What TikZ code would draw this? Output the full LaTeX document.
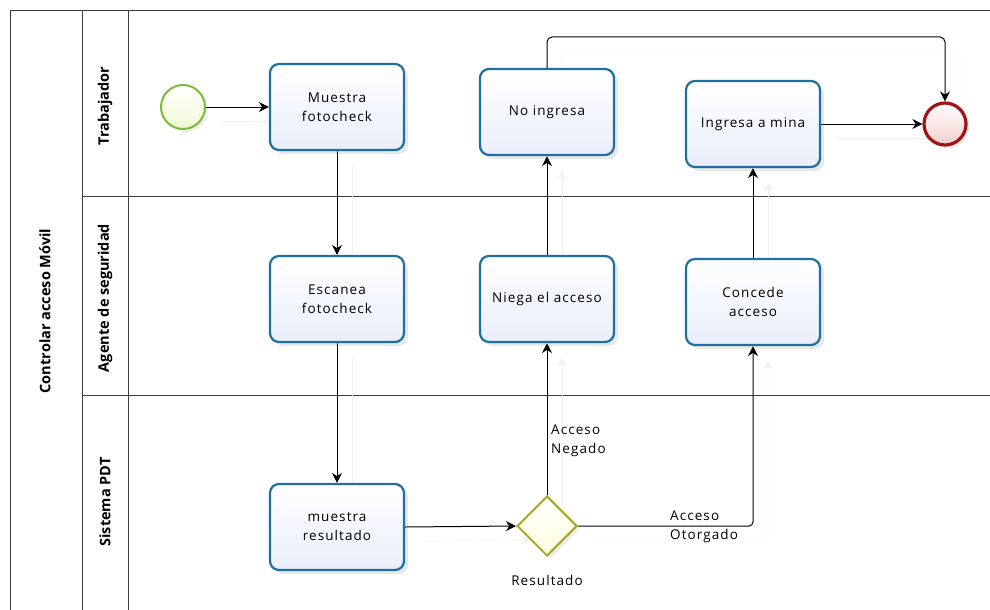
\documentclass[tikz,border=0pt]{standalone}
\usepackage{fontspec}
\setmainfont[LetterSpace=8]{Open Sans}
\newfontfamily\lanefont{Open Sans}
\usetikzlibrary{arrows.meta,shapes.geometric,shadows}

\definecolor{taskblue}{RGB}{30,112,160}
\definecolor{taskfill}{RGB}{234,238,252}
\definecolor{startline}{RGB}{122,190,56}
\definecolor{startfill}{RGB}{238,250,210}
\definecolor{endline}{RGB}{160,20,24}
\definecolor{endfill}{RGB}{244,206,206}
\definecolor{gateline}{RGB}{168,168,40}
\definecolor{gatefill}{RGB}{255,255,222}
\definecolor{poolline}{RGB}{60,60,60}

\pgfdeclarelayer{lanes}
\pgfdeclarelayer{flows}
\pgfsetlayers{lanes,flows,main}

\tikzset{
  txt/.style={font=\fontsize{13.5}{19}\selectfont},
  task/.style={txt, draw=taskblue, line width=2.2pt, rounded corners=9pt,
    minimum width=134pt, minimum height=86pt, align=center,
    top color=white, bottom color=taskfill,
    drop shadow={shadow xshift=4pt, shadow yshift=-4pt, opacity=0.18}},
  startev/.style={circle, draw=startline, line width=2pt, minimum size=44pt,
    inner sep=0pt, top color=white, bottom color=startfill,
    drop shadow={shadow xshift=3pt, shadow yshift=-3pt, opacity=0.15}},
  endev/.style={circle, draw=endline, line width=3.2pt, minimum size=42pt,
    inner sep=0pt, top color=white, bottom color=endfill,
    drop shadow={shadow xshift=3pt, shadow yshift=-3pt, opacity=0.18}},
  gate/.style={diamond, aspect=1, draw=gateline, line width=2pt,
    minimum width=60pt, minimum height=60pt, inner sep=0pt,
    top color=white, bottom color=gatefill,
    drop shadow={shadow xshift=3pt, shadow yshift=-3pt, opacity=0.15}},
  flow/.style={line width=1pt, -{Stealth[length=10pt,width=10pt]},
    preaction={draw=black!6, transform canvas={shift={(15,14)}}}},
  lanelabel/.style={rotate=90, font=\lanefont\bfseries\fontsize{14.5}{16}\selectfont},
  lbl/.style={txt, align=left, anchor=north west, inner sep=0pt},
  pool/.style={draw=poolline, line width=0.9pt}
}

\begin{document}
\begin{tikzpicture}[x=1pt, y=-1pt]
\useasboundingbox (0,0) rectangle (990,610);

% pool and lanes
\begin{pgfonlayer}{lanes}
\draw[pool] (990,10) -- (10,10) -- (10,610);
\draw[pool] (82,10) -- (82,610);
\draw[pool] (128,10) -- (128,610);
\draw[pool] (82,196) -- (990,196);
\draw[pool] (82,395) -- (990,395);
\end{pgfonlayer}

\node[lanelabel] (poolname) at (45,311) {Controlar acceso Móvil};
\node[lanelabel] (lane1) at (105,106) {Trabajador};
\node[lanelabel] (lane2) at (105,298) {Agente de seguridad};
\node[lanelabel] (lane3) at (105,502) {Sistema PDT};

% events, tasks and gateway
\node[startev] (start) at (183,107) {};
\node[task] (muestra) at (337,107) {Muestra\\fotocheck};
\node[task] (escanea) at (337,299) {Escanea\\fotocheck};
\node[task] (resultado) at (337,527) {muestra\\resultado};
\node[gate] (gw) at (547,526) {};
\node[txt, anchor=north] (gwname) at (547,572) {Resultado};
\node[task] (niega) at (547,299) {Niega el acceso};
\node[task] (noing) at (547,112) {No ingresa};
\node[task] (concede) at (753,302) {Concede\\acceso};
\node[task] (ingresa) at (753,124) {Ingresa a mina};
\node[endev] (end) at (945,124) {};

% sequence flows
\begin{pgfonlayer}{flows}
\draw[flow] (start) -- (muestra);
\draw[flow] (muestra) -- (escanea);
\draw[flow] (escanea) -- (resultado);
\draw[flow] (resultado.east) -- (gw.west);
\draw[flow] (gw.north) -- (niega.south);
\draw[flow, rounded corners=4pt] (gw.east) -| (concede.south);
\draw[flow] (niega) -- (noing);
\draw[flow] (concede) -- (ingresa);
\draw[flow] (ingresa) -- (end);
\coordinate (topbend) at (945,37);
\draw[flow, rounded corners=5pt] (noing.north) |- (topbend) -- (end.north);
\end{pgfonlayer}

% flow labels
\node[lbl] (negado) at (551,425) {Acceso\\Negado};
\node[lbl] (otorgado) at (670,511) {Acceso\\Otorgado};
\end{tikzpicture}
\end{document}
